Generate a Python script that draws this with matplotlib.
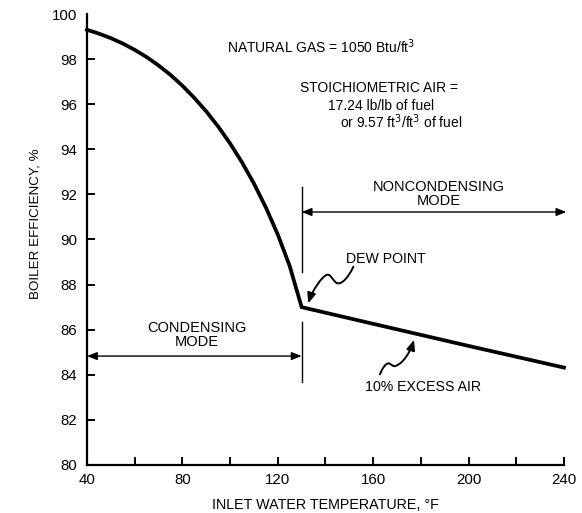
import matplotlib.pyplot as plt
from matplotlib.patches import FancyArrowPatch
from matplotlib.path import Path

# data
temperature_f = [40, 45, 50, 55, 60, 65, 70, 75, 80, 85, 90, 95, 100, 105, 110,
                 115, 120, 125, 130, 160, 200, 240]
efficiency_pct = [99.30, 99.13, 98.93, 98.69, 98.41, 98.09, 97.72, 97.30, 96.82,
                  96.28, 95.68, 95.01, 94.26, 93.42, 92.48, 91.42, 90.22, 88.82,
                  87.00, 86.26, 85.28, 84.32]

x_major = [40, 80, 120, 160, 200, 240]
x_minor = [60, 100, 140, 180, 220]
y_ticks = [80, 82, 84, 86, 88, 90, 92, 94, 96, 98, 100]

dew_point_f = 130
condensing_span = (40, 130)
noncondensing_span = (130, 241)

plt.rcParams["font.family"] = ["Liberation Sans", "DejaVu Sans"]

fig = plt.figure(figsize=(5.82, 5.13), dpi=100)
ax = fig.add_axes([0.1495, 0.0936, 0.8195, 0.8791])

ax.plot(temperature_f, efficiency_pct, color="black", lw=2.7,
        solid_joinstyle="miter", clip_on=False, zorder=3)

ax.set_xlim(40, 240)
ax.set_ylim(80, 100)
for side in ["top", "right"]:
    ax.spines[side].set_visible(False)
for side in ["left", "bottom"]:
    ax.spines[side].set_linewidth(1.6)

ax.set_xticks(x_major)
ax.set_xticks(x_minor, minor=True)
ax.set_yticks(y_ticks)
ax.tick_params(axis="both", which="both", direction="in", length=6, width=1.4,
               labelsize=10.8, colors="black")
ax.tick_params(axis="y", pad=7)
ax.tick_params(axis="x", pad=6)
ax.yaxis.get_major_ticks()[-1].tick1line.set_visible(False)

ax.set_xlabel("INLET WATER TEMPERATURE, \u00b0F", fontsize=10.3, labelpad=8)
ax.set_ylabel("BOILER EFFICIENCY, %", fontsize=9.6)
ax.yaxis.set_label_coords(-0.095, 0.535)

# dew point divider
ax.plot([dew_point_f, dew_point_f], [92.33, 88.56], color="black", lw=1)
ax.plot([dew_point_f, dew_point_f], [86.34, 83.68], color="black", lw=1)

# mode arrows
arrow_kw = dict(arrowstyle="<|-|>,head_length=0.6,head_width=0.24",
                color="black", lw=1, shrinkA=0, shrinkB=0)
ax.annotate("", xy=(condensing_span[1], 84.83), xytext=(condensing_span[0], 84.83),
            arrowprops=arrow_kw, annotation_clip=False)
ax.annotate("", xy=(noncondensing_span[1], 91.22), xytext=(noncondensing_span[0], 91.22),
            arrowprops=arrow_kw, annotation_clip=False)

ax.text(86, 85.75, "CONDENSING\nMODE", ha="center", va="center", fontsize=10.5,
        linespacing=1.0)
ax.text(187.6, 92.0, "NONCONDENSING\nMODE", ha="center", va="center", fontsize=10.5,
        linespacing=1.0)

ax.text(138.1, 98.54, "NATURAL GAS = 1050 Btu/ft$^3$", ha="center", va="center", fontsize=10)
ax.text(129.3, 96.72, "STOICHIOMETRIC AIR =", ha="left", va="center", fontsize=10)
ax.text(141.2, 95.92, "17.24 lb/lb of fuel", ha="left", va="center", fontsize=10)
ax.text(146.1, 95.21, "or 9.57 ft$^3$/ft$^3$ of fuel", ha="left", va="center", fontsize=10)

ax.text(148.8, 89.13, "DEW POINT", ha="left", va="center", fontsize=10.2)
ax.text(156.6, 83.47, "10% EXCESS AIR", ha="left", va="center", fontsize=10.2)

# squiggly pointers
C4 = Path.CURVE4
dew_path = Path(
    [(151.7, 88.79), (149.5, 88.3), (146.5, 87.95), (144.5, 88.08),
     (143.0, 88.2), (142.0, 88.5), (140.5, 88.43),
     (138.5, 88.35), (134.5, 87.75), (132.8, 87.17)],
    [Path.MOVETO, C4, C4, C4, C4, C4, C4, C4, C4, C4],
)
air_path = Path(
    [(162.85, 84.02), (163.8, 84.3), (165.5, 84.55), (166.8, 84.5),
     (167.8, 84.45), (168.5, 84.33), (169.5, 84.4),
     (172.5, 84.5), (175.5, 85.0), (177.1, 85.55)],
    [Path.MOVETO, C4, C4, C4, C4, C4, C4, C4, C4, C4],
)
for p in [dew_path, air_path]:
    ax.add_patch(FancyArrowPatch(path=p, arrowstyle="-|>,head_length=6,head_width=2.5",
                                 color="black", lw=1.4, transform=ax.transData))

fig.savefig("out.png", dpi=100)
